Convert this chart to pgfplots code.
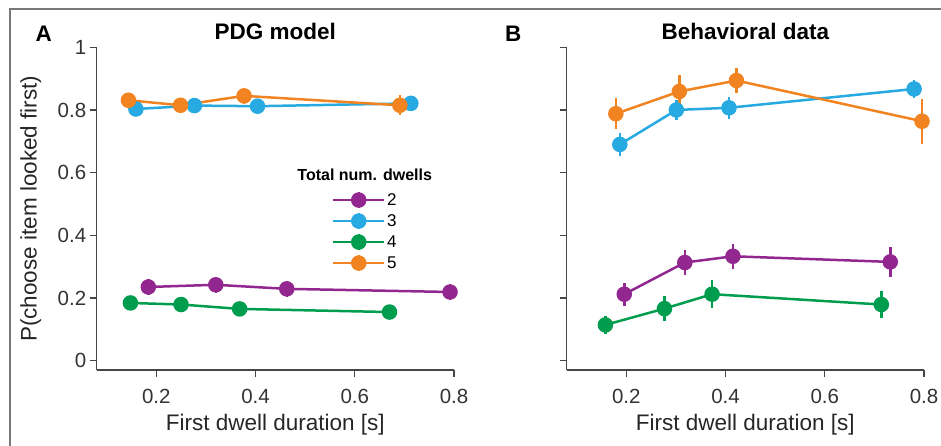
\documentclass[border=0pt]{standalone}
\usepackage{fontspec}
\setmainfont{Liberation Sans}
\usepackage{pgfplots}
\pgfplotsset{compat=1.18}
\usepackage{pgfplotstable}

\definecolor{cTwo}{RGB}{146,39,143}
\definecolor{cThree}{RGB}{39,170,225}
\definecolor{cFour}{RGB}{0,157,78}
\definecolor{cFive}{RGB}{242,131,33}
\definecolor{axisgray}{RGB}{70,70,70}
\definecolor{framegray}{RGB}{120,120,120}

\newcommand{\ticksize}{\fontsize{20.5bp}{24bp}\selectfont}
\newcommand{\labelsize}{\fontsize{22.5bp}{27bp}\selectfont}
\newcommand{\titlesize}{\fontsize{22.5bp}{27bp}\selectfont}
\newcommand{\legsize}{\fontsize{17bp}{20bp}\selectfont}
\newcommand{\legtitlesize}{\fontsize{16bp}{19bp}\selectfont}

% PDG model: first dwell duration, P(choose first-seen item), error
\pgfplotstableread{
x y e
0.184 0.235 0.025
0.320 0.242 0.025
0.463 0.229 0.025
0.792 0.219 0.025
}\modelTwo
\pgfplotstableread{
x y e
0.159 0.803 0.012
0.277 0.814 0.012
0.404 0.812 0.012
0.713 0.821 0.012
}\modelThree
\pgfplotstableread{
x y e
0.148 0.184 0.012
0.250 0.179 0.012
0.368 0.165 0.012
0.670 0.155 0.012
}\modelFour
\pgfplotstableread{
x y e
0.144 0.831 0.022
0.249 0.815 0.024
0.377 0.845 0.025
0.691 0.815 0.032
}\modelFive

% Behavioral data
\pgfplotstableread{
x y e
0.196 0.212 0.037
0.318 0.313 0.040
0.415 0.333 0.040
0.732 0.315 0.047
}\dataTwo
\pgfplotstableread{
x y e
0.187 0.690 0.036
0.301 0.800 0.033
0.407 0.807 0.035
0.780 0.867 0.029
}\dataThree
\pgfplotstableread{
x y e
0.158 0.114 0.029
0.277 0.166 0.041
0.373 0.212 0.045
0.714 0.179 0.042
}\dataFour
\pgfplotstableread{
x y e
0.179 0.788 0.050
0.307 0.859 0.053
0.422 0.894 0.041
0.796 0.764 0.072
}\dataFive

\pgfplotsset{
  panel/.style={
    scale only axis, width=357.3bp, height=322.7bp,
    xmin=0.08, xmax=0.8, ymin=-0.03, ymax=1,
    axis lines=left, axis line style={-, axisgray, line width=1.2bp},
    tick align=outside, major tick length=7bp,
    tick style={axisgray, line width=1.2bp},
    xtick={0.2,0.4,0.6,0.8}, ytick={0,0.2,0.4,0.6,0.8,1},
    tick label style={font=\ticksize, text=black!80},
    xticklabel style={yshift=-9bp},
    /pgf/number format/assume math mode=true,
    every axis x label/.style={at={(axis description cs:0.5,-0.186)}, anchor=base, font=\labelsize, text=black!85},
    every axis y label/.style={at={(axis description cs:-0.168,0.5)}, rotate=90, anchor=base, font=\labelsize, text=black!85},
    every axis title shift=0pt,
    title style={at={(axis description cs:0.5,1.0257)}, anchor=base, font=\titlesize\bfseries},
    clip=false,
  },
  series/.style={
    color=#1, line width=2.5bp, mark=*, mark size=6.5bp, mark options={solid},
    error bars/.cd, y dir=both, y explicit, error mark=none,
    error bar style={line width=2.5bp, #1},
  },
}

\begin{document}
\begin{tikzpicture}
\useasboundingbox (0,0) rectangle (941bp,-446bp);

% Panel A: model predictions
\begin{axis}[panel, at={(96.7bp,-370bp)}, anchor=south west,
  title={PDG model},
  xlabel={First dwell duration [s]},
  ylabel={P(choose item looked first)},
  legend style={at={(axis description cs:0.658,0.556)}, anchor=north west,
    draw=none, fill=none, inner sep=0pt, row sep=2.5bp, font=\legsize,
    nodes={inner xsep=1.5bp, inner ysep=1bp}},
  legend cell align=left,
  legend image code/.code={
    \draw[line width=2.5bp] (0bp,0bp) -- (51bp,0bp);
    \draw[line width=2.5bp] (25.5bp,-8bp) -- (25.5bp,8bp);
    \fill (25.5bp,0bp) circle[radius=6.5bp];
  },
]
\addplot[series=cTwo] table[x=x, y=y, y error=e] {\modelTwo};
\addplot[series=cThree] table[x=x, y=y, y error=e] {\modelThree};
\addplot[series=cFour] table[x=x, y=y, y error=e] {\modelFour};
\addplot[series=cFive] table[x=x, y=y, y error=e] {\modelFive};
\legend{2,3,4,5}
\node[font=\legtitlesize\bfseries, anchor=base] at (axis description cs:0.750,0.5866) {Total num. dwells};
\node[font=\titlesize\bfseries, anchor=base] at (axis description cs:-0.148,1.0174) {A};
\end{axis}

% Panel B: behavioral data
\begin{axis}[panel, at={(566.7bp,-370bp)}, anchor=south west,
  title={Behavioral data},
  xlabel={First dwell duration [s]},
  yticklabels={},
]
\addplot[series=cTwo] table[x=x, y=y, y error=e] {\dataTwo};
\addplot[series=cThree] table[x=x, y=y, y error=e] {\dataThree};
\addplot[series=cFour] table[x=x, y=y, y error=e] {\dataFour};
\addplot[series=cFive] table[x=x, y=y, y error=e] {\dataFive};
\node[font=\titlesize\bfseries, anchor=base] at (axis description cs:-0.1495,1.0174) {B};
\end{axis}

% figure frame
\draw[framegray, line width=2bp] (9.7bp,-470bp) -- (9.7bp,-9bp) -- (970bp,-9bp);
\end{tikzpicture}
\end{document}
